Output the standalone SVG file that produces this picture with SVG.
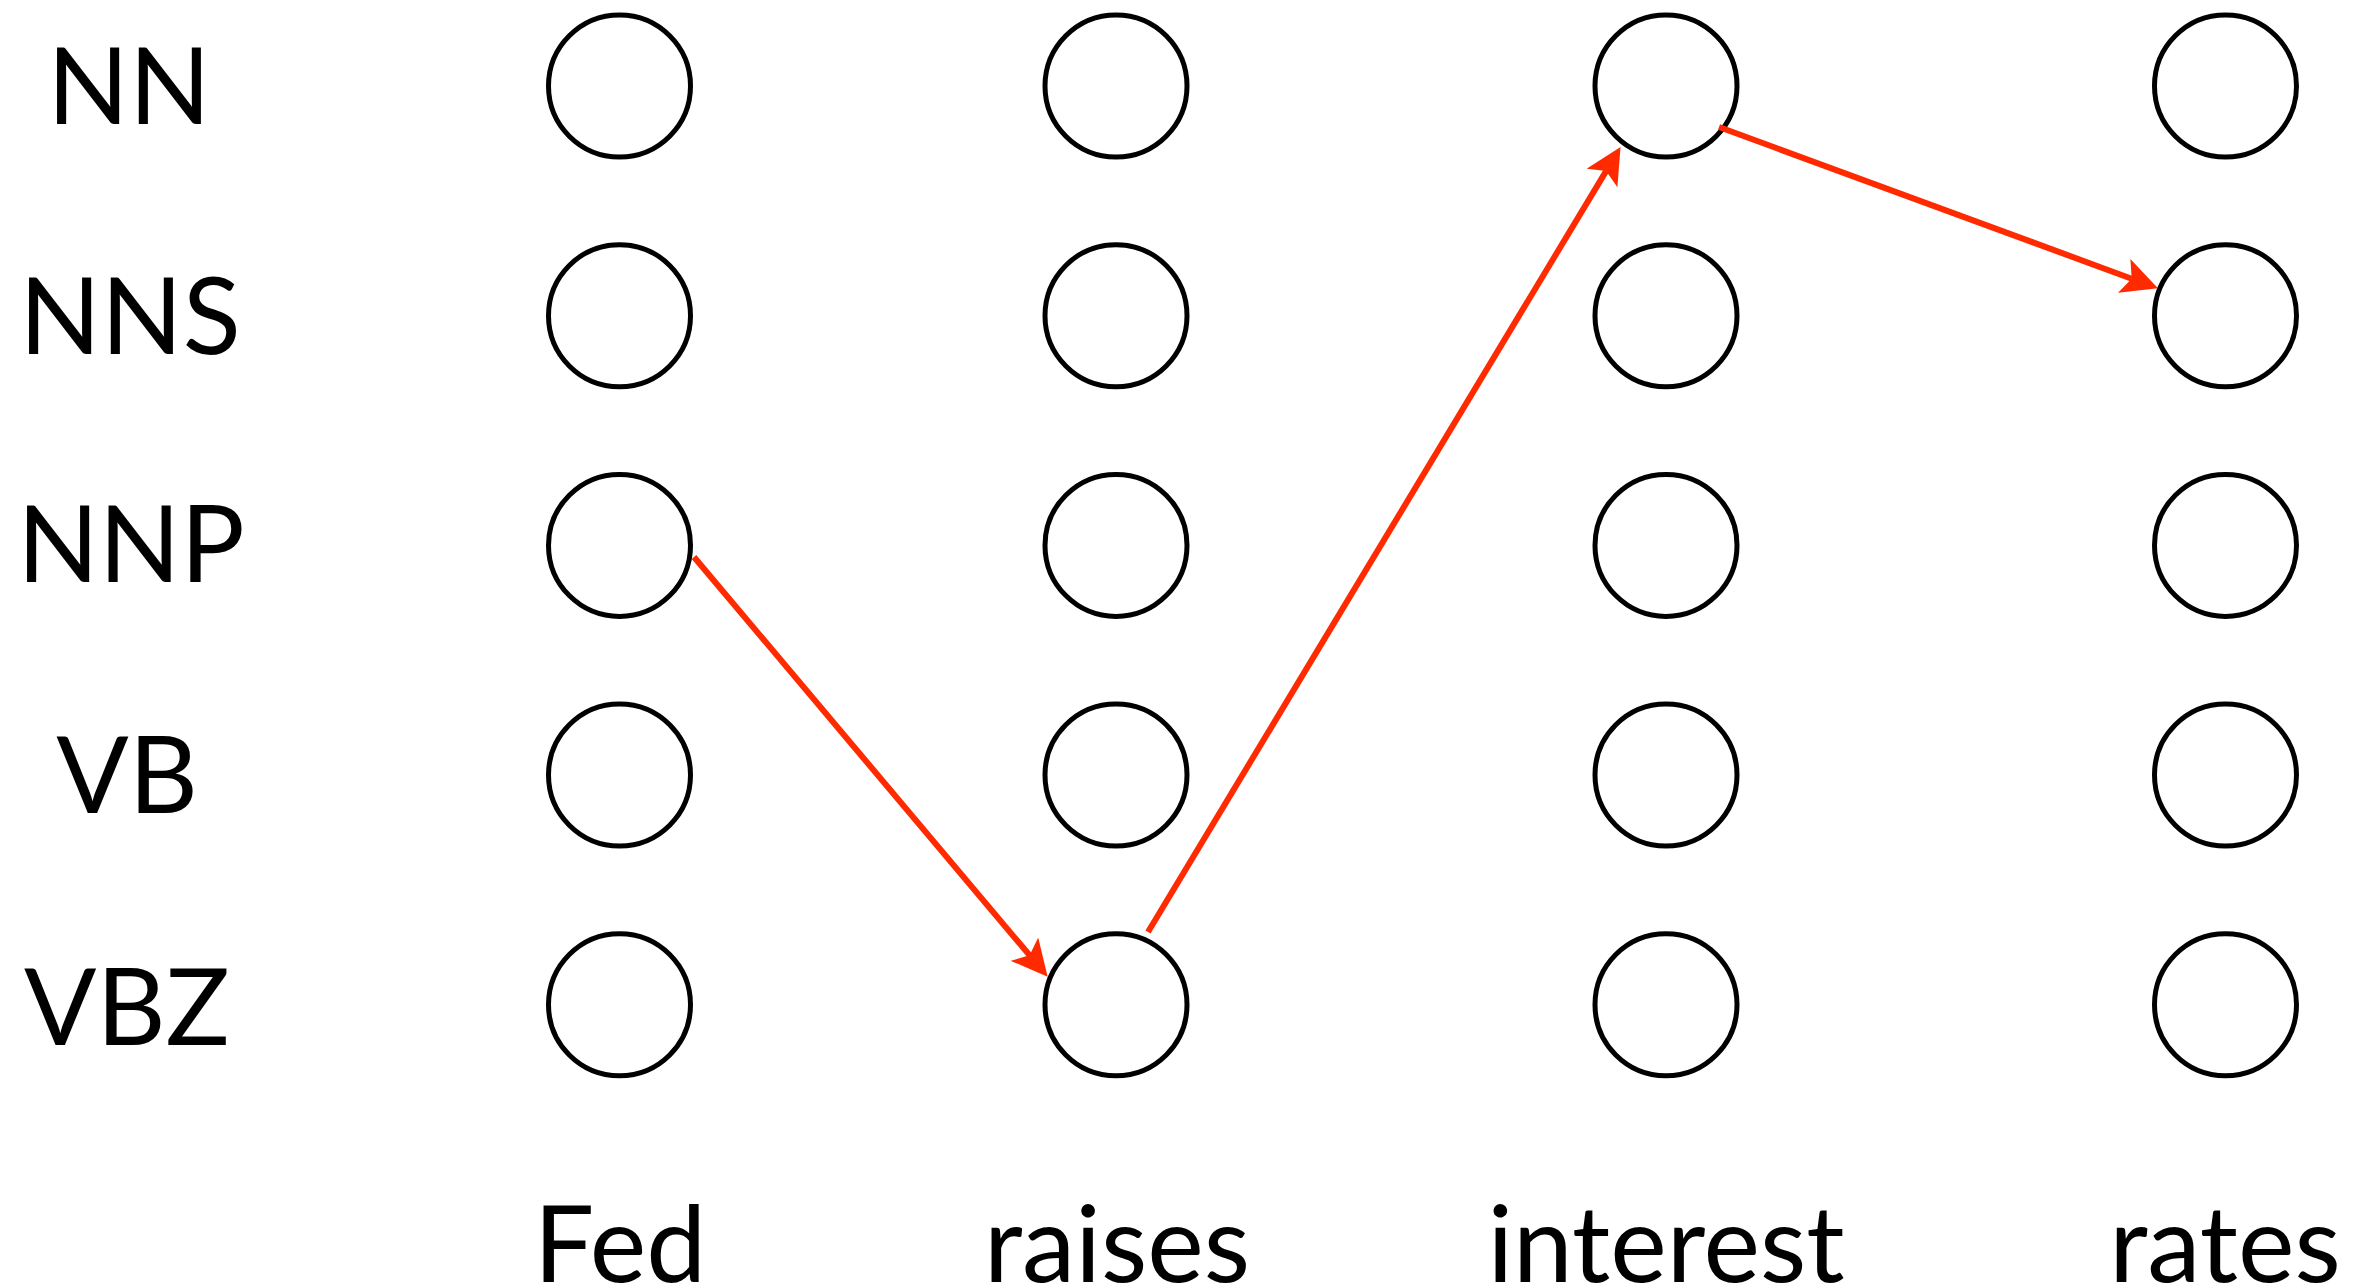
<svg xmlns="http://www.w3.org/2000/svg" width="2356" height="1287" viewBox="0 0 2356 1287">
<style>
.node{fill:none;stroke:#000;stroke-width:5}
.lbl{font-family:Lato,"Open Sans","Liberation Sans",sans-serif;font-size:107px;fill:#000;text-anchor:middle}
.edge{stroke:#ff2a00;stroke-width:6;fill:none}
</style>
<defs>
<marker id="ah" markerUnits="userSpaceOnUse" viewBox="0 0 36 36" markerWidth="36" markerHeight="36" refX="8" refY="18" orient="auto">
<path d="M0,0 L36,18 L0,36 L8,18 Z" fill="#ff2a00"/>
</marker>
</defs>
<rect width="2356" height="1287" fill="#fff"/>
<g id="tags">
<text class="lbl" x="129" y="124">NN</text>
<text class="lbl" x="130" y="354">NNS</text>
<text class="lbl" x="131" y="582">NNP</text>
<text class="lbl" x="127" y="813">VB</text>
<text class="lbl" x="127" y="1045">VBZ</text>
</g>
<g id="words">
<text class="lbl" x="620" y="1282">Fed</text>
<text class="lbl" x="1117" y="1282">raises</text>
<text class="lbl" x="1666" y="1282">interest</text>
<text class="lbl" x="2225" y="1282">rates</text>
</g>
<g id="col-Fed">
<circle id="Fed-NN" class="node" cx="619.5" cy="86" r="71"/>
<circle id="Fed-NNS" class="node" cx="619.5" cy="315.7" r="71"/>
<circle id="Fed-NNP" class="node" cx="619.5" cy="545.4" r="71"/>
<circle id="Fed-VB" class="node" cx="619.5" cy="775" r="71"/>
<circle id="Fed-VBZ" class="node" cx="619.5" cy="1004.8" r="71"/>
</g>
<g id="col-raises">
<circle id="raises-NN" class="node" cx="1116" cy="86" r="71"/>
<circle id="raises-NNS" class="node" cx="1116" cy="315.7" r="71"/>
<circle id="raises-NNP" class="node" cx="1116" cy="545.4" r="71"/>
<circle id="raises-VB" class="node" cx="1116" cy="775" r="71"/>
<circle id="raises-VBZ" class="node" cx="1116" cy="1004.8" r="71"/>
</g>
<g id="col-interest">
<circle id="interest-NN" class="node" cx="1666" cy="86" r="71"/>
<circle id="interest-NNS" class="node" cx="1666" cy="315.7" r="71"/>
<circle id="interest-NNP" class="node" cx="1666" cy="545.4" r="71"/>
<circle id="interest-VB" class="node" cx="1666" cy="775" r="71"/>
<circle id="interest-VBZ" class="node" cx="1666" cy="1004.8" r="71"/>
</g>
<g id="col-rates">
<circle id="rates-NN" class="node" cx="2225.5" cy="86" r="71"/>
<circle id="rates-NNS" class="node" cx="2225.5" cy="315.7" r="71"/>
<circle id="rates-NNP" class="node" cx="2225.5" cy="545.4" r="71"/>
<circle id="rates-VB" class="node" cx="2225.5" cy="775" r="71"/>
<circle id="rates-VBZ" class="node" cx="2225.5" cy="1004.8" r="71"/>
</g>
<g id="connectors">
<line class="edge" x1="694" y1="557" x2="1029.6" y2="955.3" marker-end="url(#ah)"/>
<line class="edge" x1="1148" y1="932" x2="1606.1" y2="171.1" marker-end="url(#ah)"/>
<line class="edge" x1="1719" y1="127" x2="2131.7" y2="278.7" marker-end="url(#ah)"/>
</g>
</svg>
